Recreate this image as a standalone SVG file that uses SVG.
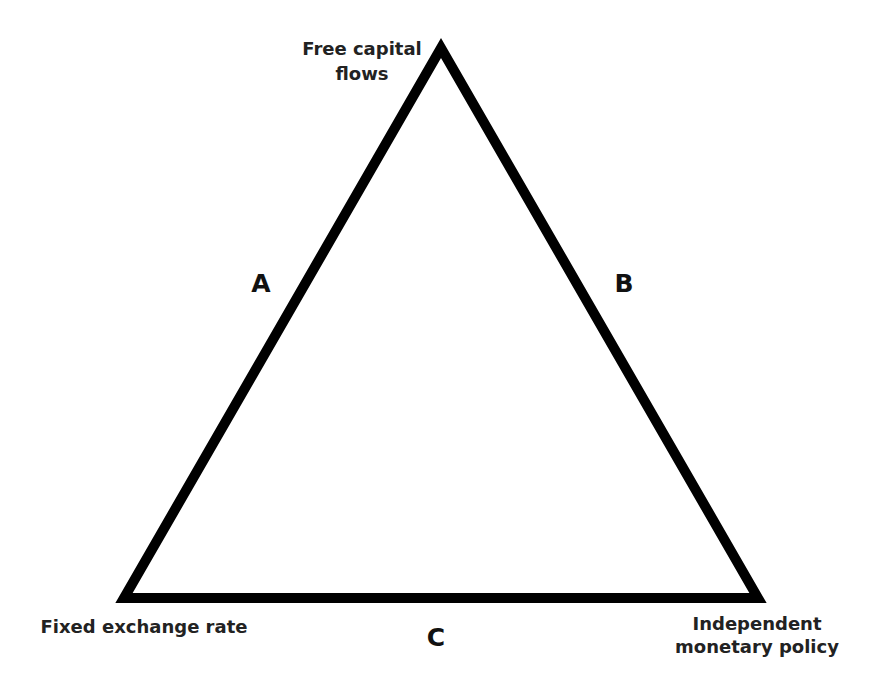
<svg xmlns="http://www.w3.org/2000/svg" width="871" height="691" viewBox="0 0 871 691">
<style>
.lbl{font-family:"DejaVu Sans","Liberation Sans",sans-serif;font-weight:bold;font-size:18px;fill:#222;text-anchor:middle}
.side{font-family:"DejaVu Sans","Liberation Sans",sans-serif;font-weight:bold;font-size:25px;fill:#111;text-anchor:middle}
</style>
<rect width="871" height="691" fill="#fff"/>
<g id="connectors">
<path d="M441 48 L758 598 L124 598 Z" fill="none" stroke="#000" stroke-width="10" stroke-linejoin="miter"/>
</g>
<g id="node-capital"><text class="lbl" x="362" y="55">Free capital</text><text class="lbl" x="362" y="80">flows</text></g>
<g id="node-fixed"><text class="lbl" x="144" y="633">Fixed exchange rate</text></g>
<g id="node-monetary"><text class="lbl" x="757" y="630">Independent</text><text class="lbl" x="757" y="653">monetary policy</text></g>
<g id="label-a"><text class="side" x="261" y="292">A</text></g>
<g id="label-b"><text class="side" x="624" y="292">B</text></g>
<g id="label-c"><text class="side" x="436" y="646">C</text></g>
</svg>
